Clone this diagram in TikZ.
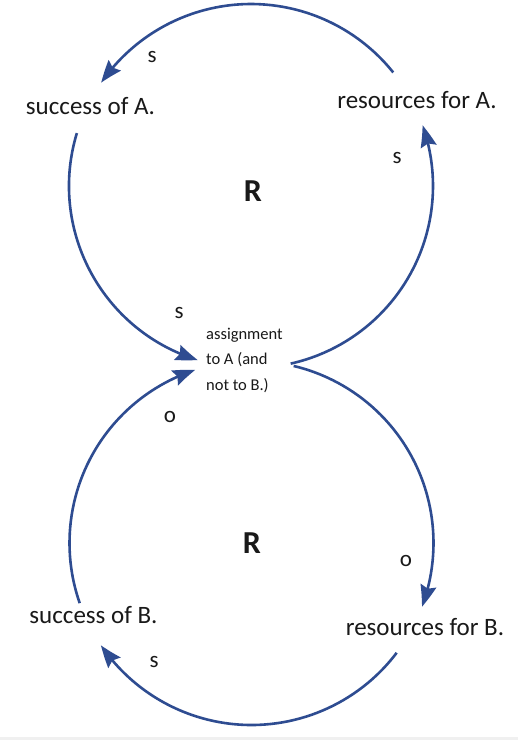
\documentclass[tikz,border=0pt]{standalone}
\usepackage{fontspec}
\setmainfont{Carlito}
\usetikzlibrary{arrows.meta,bending}
\definecolor{loopblue}{RGB}{46,76,145}
\definecolor{bandgray}{RGB}{240,240,240}
\tikzset{
  link/.style={draw=loopblue,line width=2.6pt,-{Stealth[length=22pt,width=16pt,inset=3pt,bend]}},
  varlabel/.style={font=\fontsize{25}{30}\selectfont,inner sep=0pt,anchor=base,text=black!90},
  pol/.style={font=\fontsize{23}{28}\selectfont,inner sep=0pt,anchor=base,text=black!90},
  looplabel/.style={font=\bfseries\fontsize{32}{36}\selectfont,inner sep=0pt,anchor=base,text=black!90},
  smalltext/.style={font=\fontsize{16.5}{25.5}\selectfont,inner sep=0pt,align=left,anchor=base west,text=black!90}
}
\begin{document}
\begin{tikzpicture}[x=1pt,y=1pt]
\useasboundingbox (0,0) rectangle (518,-740);
\fill[white] (0,0) rectangle (518,-740);
\fill[bandgray] (0,-737) rectangle (518,-740);

% nodes
\node[varlabel] (successA) at (90.5,-114) {success of A.};
\node[varlabel] (resourcesA) at (417,-108) {resources for A.};
\node[varlabel] (successB) at (93.5,-623) {success of B.};
\node[varlabel] (resourcesB) at (425,-635) {resources for B.};
\node[smalltext] (assign) at (206,-390) {assignment\\to A (and\\not to B.)};
\node[looplabel] (RA) at (253,-201.5) {R};
\node[looplabel] (RB) at (252,-553) {R};

% polarity labels
\node[pol] (p1) at (152,-62) {s};
\node[pol] (p2) at (397,-163) {s};
\node[pol] (p3) at (179,-318) {s};
\node[pol] (p4) at (170,-422) {o};
\node[pol] (p5) at (406,-566) {o};
\node[pol] (p6) at (154,-667) {s};

% loop centres
\coordinate (cU) at (251,-186);
\coordinate (cL) at (251.5,-543);

% upper loop
\draw[link] ([shift={(38.6:182)}]cU) arc[start angle=38.6,end angle=145.4,radius=182];
\draw[link] ([shift={(163.1:182)}]cU) arc[start angle=163.1,end angle=253,radius=182];
\draw[link] ([shift={(-77.4:182)}]cU) arc[start angle=-77.4,end angle=19.5,radius=182];

% lower loop
\draw[link] ([shift={(76.6:182)}]cL) arc[start angle=76.6,end angle=-20.5,radius=182];
\draw[link] ([shift={(-37.1:182)}]cL) arc[start angle=-37.1,end angle=-145.8,radius=182];
\draw[link] ([shift={(199.3:182)}]cL) arc[start angle=199.3,end angle=108,radius=182];
\end{tikzpicture}
\end{document}
